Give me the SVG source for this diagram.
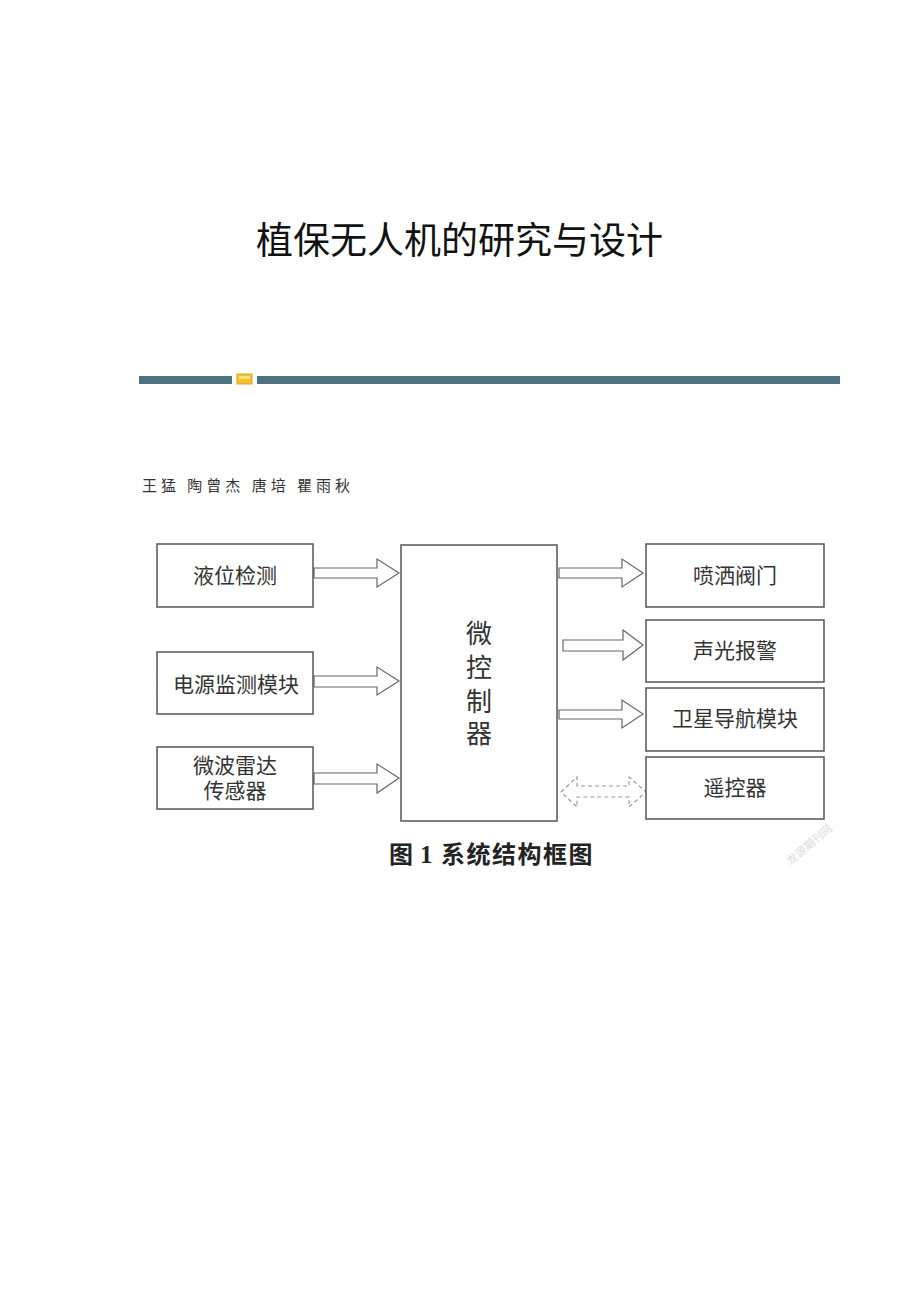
<svg xmlns="http://www.w3.org/2000/svg" width="920" height="1302" viewBox="0 0 920 1302">
<style>
.box{fill:#fff;stroke:#555;stroke-width:1.5}
.lbl{font-family:"Liberation Sans","Noto Sans CJK SC",sans-serif;font-size:21px;fill:#333;text-anchor:middle}
.big{font-family:"Liberation Sans","Noto Sans CJK SC",sans-serif;font-size:26px;fill:#333;text-anchor:middle}
.arr{fill:#fff;stroke:#666;stroke-width:1.2;stroke-linejoin:miter}
.darr{fill:#fff;stroke:#9a9a9a;stroke-width:1.2;stroke-dasharray:4 3}
.bar{fill:#4f7282}
</style>
<rect width="920" height="1302" fill="#fff"/>
<text x="459.5" y="254" font-family="'Noto Sans CJK SC','Noto Sans',sans-serif" font-size="37" fill="#111" text-anchor="middle">植保无人机的研究与设计</text>
<g id="divider">
<rect class="bar" x="139" y="376" width="93" height="8"/>
<rect x="237" y="374" width="15" height="10" fill="#f3c232" stroke="#e2a814" stroke-width="1"/>
<rect x="239" y="376" width="11" height="3" fill="#fbe27a"/>
<rect class="bar" x="257" y="376" width="583" height="8"/>
</g>
<text x="142" y="491" font-family="'Noto Sans CJK SC','Noto Sans',sans-serif" font-size="15" fill="#333" textLength="208" lengthAdjust="spacing">王猛 陶曾杰 唐培 瞿雨秋</text>
<g id="connectors">
<polygon class="arr" points="314,568 377,568 377,559 399,573 377,587 377,578 314,578"/>
<polygon class="arr" points="314,676 377,676 377,667 399,681 377,695 377,687 314,687"/>
<polygon class="arr" points="314,773 377,773 377,764 399,778 377,793 377,784 314,784"/>
<polygon class="arr" points="559,568 622,568 622,559 643,573 622,587 622,578 559,578"/>
<polygon class="arr" points="563,640 623,640 623,630 643,645 623,660 623,651 563,651"/>
<polygon class="arr" points="559,710 622,710 622,700 643,714 622,728 622,719 559,719"/>
<polygon class="darr" points="561,792 577,777 577,786 629,786 629,777 646,792 629,807 629,797 577,797 577,807"/>
</g>
<g id="n-level">
<rect class="box" x="157" y="544" width="156" height="63"/>
<text class="lbl" x="235" y="583">液位检测</text>
</g>
<g id="n-power">
<rect class="box" x="157" y="652" width="156" height="62"/>
<text class="lbl" x="236" y="692">电源监测模块</text>
</g>
<g id="n-radar">
<rect class="box" x="157" y="747" width="156" height="62"/>
<text class="lbl"><tspan x="235" y="773">微波雷达</tspan><tspan x="235" y="798">传感器</tspan></text>
</g>
<g id="n-mcu">
<rect class="box" x="401" y="545" width="156" height="276"/>
<text class="big"><tspan x="479" y="643">微</tspan><tspan x="479" y="677">控</tspan><tspan x="479" y="711">制</tspan><tspan x="479" y="743">器</tspan></text>
</g>
<g id="n-valve">
<rect class="box" x="646" y="544" width="178" height="63"/>
<text class="lbl" x="735" y="583">喷洒阀门</text>
</g>
<g id="n-alarm">
<rect class="box" x="646" y="620" width="178" height="62"/>
<text class="lbl" x="735" y="658">声光报警</text>
</g>
<g id="n-gnss">
<rect class="box" x="646" y="688" width="178" height="63"/>
<text class="lbl" x="735" y="726">卫星导航模块</text>
</g>
<g id="n-remote">
<rect class="box" x="646" y="757" width="178" height="62"/>
<text class="lbl" x="735" y="795">遥控器</text>
</g>
<text y="863" font-family="'Noto Sans CJK SC','Noto Sans',sans-serif" font-size="24" font-weight="bold" fill="#222"><tspan x="389">图</tspan><tspan x="420" font-family="'Liberation Serif',serif" font-size="25">1</tspan><tspan x="441" letter-spacing="1.5">系统结构框图</tspan></text>
<text x="810" y="848" transform="rotate(-40 810 845)" font-family="'Noto Sans CJK SC',sans-serif" font-size="11" fill="#d9d9e2" text-anchor="middle">龙源期刊网</text>
</svg>
